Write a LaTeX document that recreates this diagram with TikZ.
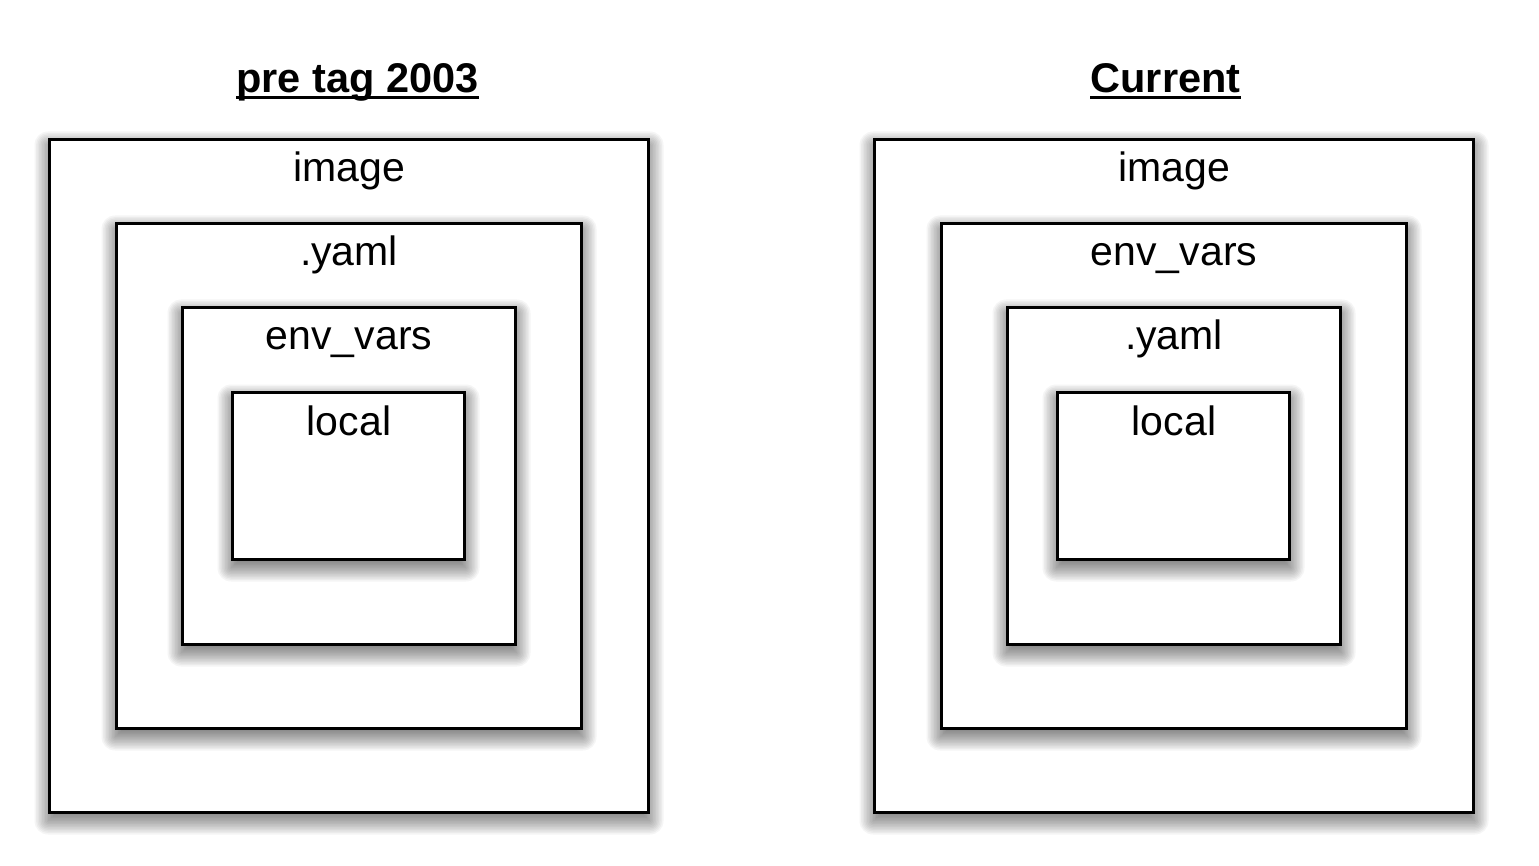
\documentclass[tikz,border=0pt]{standalone}
\usepackage{fontspec}
\setmainfont{Liberation Sans}
\begin{document}
\begin{tikzpicture}[x=1pt,y=-1pt,
  geom/.style={inner sep=0pt, outer sep=0pt, draw=none},
  frame/.style={draw=black, line width=3.2pt, fill=white},
  lbl/.style={anchor=base, inner sep=0pt, font=\fontsize{41}{49}\selectfont},
  title/.style={anchor=base, inner sep=0pt, font=\fontsize{41.5}{50}\bfseries\selectfont}]
\useasboundingbox (0,0) rectangle (1539,866);

% soft drop shadow (stacked translucent layers), then the framed box on top
\newcommand\shadedframe[1]{%
  \foreach \k in {0,...,15}{%
    \pgfmathsetmacro\e{1.5*(\k-6)}%
    \pgfmathsetmacro\lo{-1.5-\e}%
    \pgfmathsetmacro\hi{1.5+\e}%
    \pgfmathsetmacro\rc{max(\e,0.1)}%
    \fill[black, fill opacity=0.04, rounded corners=\rc pt]
      ([shift={(\lo,\lo+7)}]#1.north west) rectangle ([shift={(\hi,\hi+7)}]#1.south east);
  }%
  \draw[frame] (#1.north west) rectangle (#1.south east);
}

% box geometry
\node[geom, minimum width=599, minimum height=673] (L1) at (349,476) {};
\node[geom, minimum width=465, minimum height=505] (L2) at (349,476) {};
\node[geom, minimum width=333, minimum height=337] (L3) at (349,476) {};
\node[geom, minimum width=232, minimum height=167] (L4) at (348.5,476) {};
\node[geom, minimum width=599, minimum height=673] (R1) at (1174,476) {};
\node[geom, minimum width=465, minimum height=505] (R2) at (1174,476) {};
\node[geom, minimum width=333, minimum height=337] (R3) at (1174,476) {};
\node[geom, minimum width=232, minimum height=167] (R4) at (1173.5,476) {};

% left stack: pre tag 2003
\node[title] (tL) at (357.5,93) {pre tag 2003};
\draw[line width=3pt] ([yshift=-4.5pt]tL.base west) -- ([yshift=-4.5pt]tL.base east);
\shadedframe{L1}
\shadedframe{L2}
\shadedframe{L3}
\shadedframe{L4}
\node[lbl] (l1) at (349,182) {image};
\node[lbl] (l2) at (349,266) {.yaml};
\node[lbl] (l3) at (349,350) {env\_vars};
\node[lbl] (l4) at (349,435) {local};

% right stack: current
\node[title] (tR) at (1165.5,93) {Current};
\draw[line width=3pt] ([yshift=-4.5pt]tR.base west) -- ([yshift=-4.5pt]tR.base east);
\shadedframe{R1}
\shadedframe{R2}
\shadedframe{R3}
\shadedframe{R4}
\node[lbl] (r1) at (1174,182) {image};
\node[lbl] (r2) at (1174,266) {env\_vars};
\node[lbl] (r3) at (1174,350) {.yaml};
\node[lbl] (r4) at (1174,435) {local};
\end{tikzpicture}
\end{document}
